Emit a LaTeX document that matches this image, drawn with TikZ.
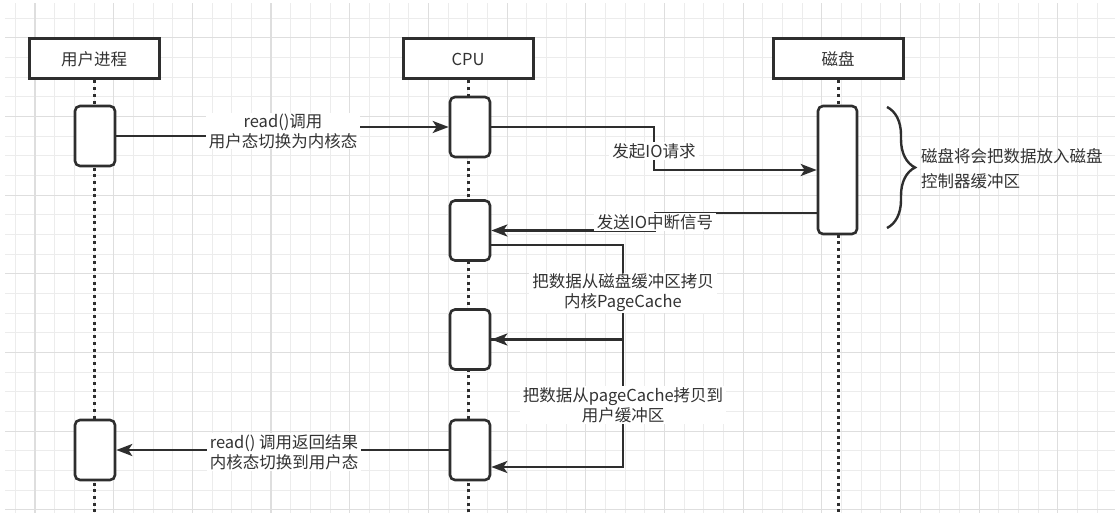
\documentclass[tikz,border=0pt]{standalone}
\usepackage{fontspec}
\setmainfont{Noto Sans CJK SC}
\usetikzlibrary{arrows.meta,decorations.pathreplacing}
\definecolor{ink}{HTML}{2E2E2E}
\definecolor{txt}{HTML}{333333}
\definecolor{gridminor}{HTML}{ECECEC}
\definecolor{gridmajor}{HTML}{DEDEDE}

\begin{document}
\begin{tikzpicture}[x=1pt,y=-1pt,
  header/.style={draw=ink,line width=3pt,fill=white,minimum width=130pt,
    minimum height=40pt,inner sep=0pt,text=txt,font=\fontsize{16.5}{20}\selectfont},
  act/.style={draw=ink,line width=2.6pt,fill=white,rounded corners=5pt,
    minimum width=40pt,minimum height=60pt,inner sep=0pt},
  lifeline/.style={draw=ink,line width=3pt,dash pattern=on 3pt off 3.7pt},
  msg/.style={draw=ink,line width=2.5pt,-{Stealth[length=16pt,width=12pt,inset=4pt]}},
  lbl/.style={fill=white,text=txt,align=center,inner xsep=3pt,inner ysep=1pt,
    font=\fontsize{16.5}{20}\selectfont},
  note/.style={text=txt,align=left,inner sep=0pt,font=\fontsize{16.5}{25}\selectfont},
]
% canvas and background grid
\useasboundingbox (0,0) rectangle (1115,513);
\fill[white] (0,0) rectangle (1115,513);
\begin{scope}
  \clip (5,4) rectangle (1115,513);
  \foreach \i in {0,...,56} {
    \pgfmathsetmacro\gx{15.3+19.67*\i}
    \draw[gridminor,line width=0.9pt] (\gx,0) -- (\gx,513);
  }
  \foreach \j in {0,...,25} {
    \pgfmathsetmacro\gy{18.1+19.67*\j}
    \draw[gridminor,line width=0.9pt] (0,\gy) -- (1115,\gy);
  }
  \foreach \i in {1,5,...,57} {
    \pgfmathsetmacro\gx{15.3+19.67*\i}
    \draw[gridmajor,line width=1.1pt] (\gx,0) -- (\gx,513);
  }
  \foreach \j in {1,5,...,25} {
    \pgfmathsetmacro\gy{18.1+19.67*\j}
    \draw[gridmajor,line width=1.1pt] (0,\gy) -- (1115,\gy);
  }
\end{scope}

% participants
\node[header] (u0) at (94,59) {用户进程};
\node[header] (c0) at (468,59) {CPU};
\node[header] (d0) at (838,59) {磁盘};
\coordinate (bot) at (0,513);

% lifelines
\draw[lifeline] (u0.south) -- (u0.south |- bot);
\draw[lifeline] (c0.south) -- (c0.south |- bot);
\draw[lifeline] (d0.south) -- (d0.south |- bot);

% activations
\node[act] (u1) at (95,136) {};
\node[act] (u2) at (95,450) {};
\node[act] (c1) at (470,127) {};
\node[act] (c2) at (470,230.5) {};
\node[act] (c3) at (470,339.5) {};
\node[act] (c4) at (470,450) {};
\node[act,minimum width=39pt,minimum height=128pt] (d1) at (837.5,170) {};

% label positions on the messages
\coordinate (j1) at (283,131);
\coordinate (j2) at (654,151);
\coordinate (j3) at (655,222);
\coordinate (j4) at (623,293);
\coordinate (j5) at (623,405);
\coordinate (j6) at (284,452);

% messages
\draw[msg] (u1.east) -| (j1) |- (c1.west);
\draw[msg] (c1.east) -| (j2) |- (d1.west);
\draw[msg] ([yshift=-43pt]d1.west) -| (j3) |- (c2.east);
\draw[msg] ([yshift=-14.5pt]c2.east) -| (j4) |- (c3.east);
\draw[msg] (c3.east) -| (j5) |- ([yshift=-17pt]c4.east);
\draw[msg] (c4.west) -- (u2.east);

% message labels
\node[lbl] (l1) at (j1) {read()调用\\用户态切换为内核态};
\node[lbl] (l2) at (j2) {发起IO请求};
\node[lbl] (l3) at (j3) {发送IO中断信号};
\node[lbl] (l4) at (j4) {把数据从磁盘缓冲区拷贝\\内核PageCache};
\node[lbl] (l5) at (j5) {把数据从pageCache拷贝到\\用户缓冲区};
\node[lbl] (l6) at (j6) {read() 调用返回结果\\内核态切换到用户态};

% brace over the disk activity
\coordinate (bt) at (887,107);
\coordinate (bb) at (887,228);
\draw[ink,line width=2.4pt,decorate,decoration={brace,amplitude=28pt,aspect=0.5}] (bt) -- (bb);
\node[note,anchor=west] (n1) at (921,169) {磁盘将会把数据放入磁盘\\控制器缓冲区};
\end{tikzpicture}
\end{document}
